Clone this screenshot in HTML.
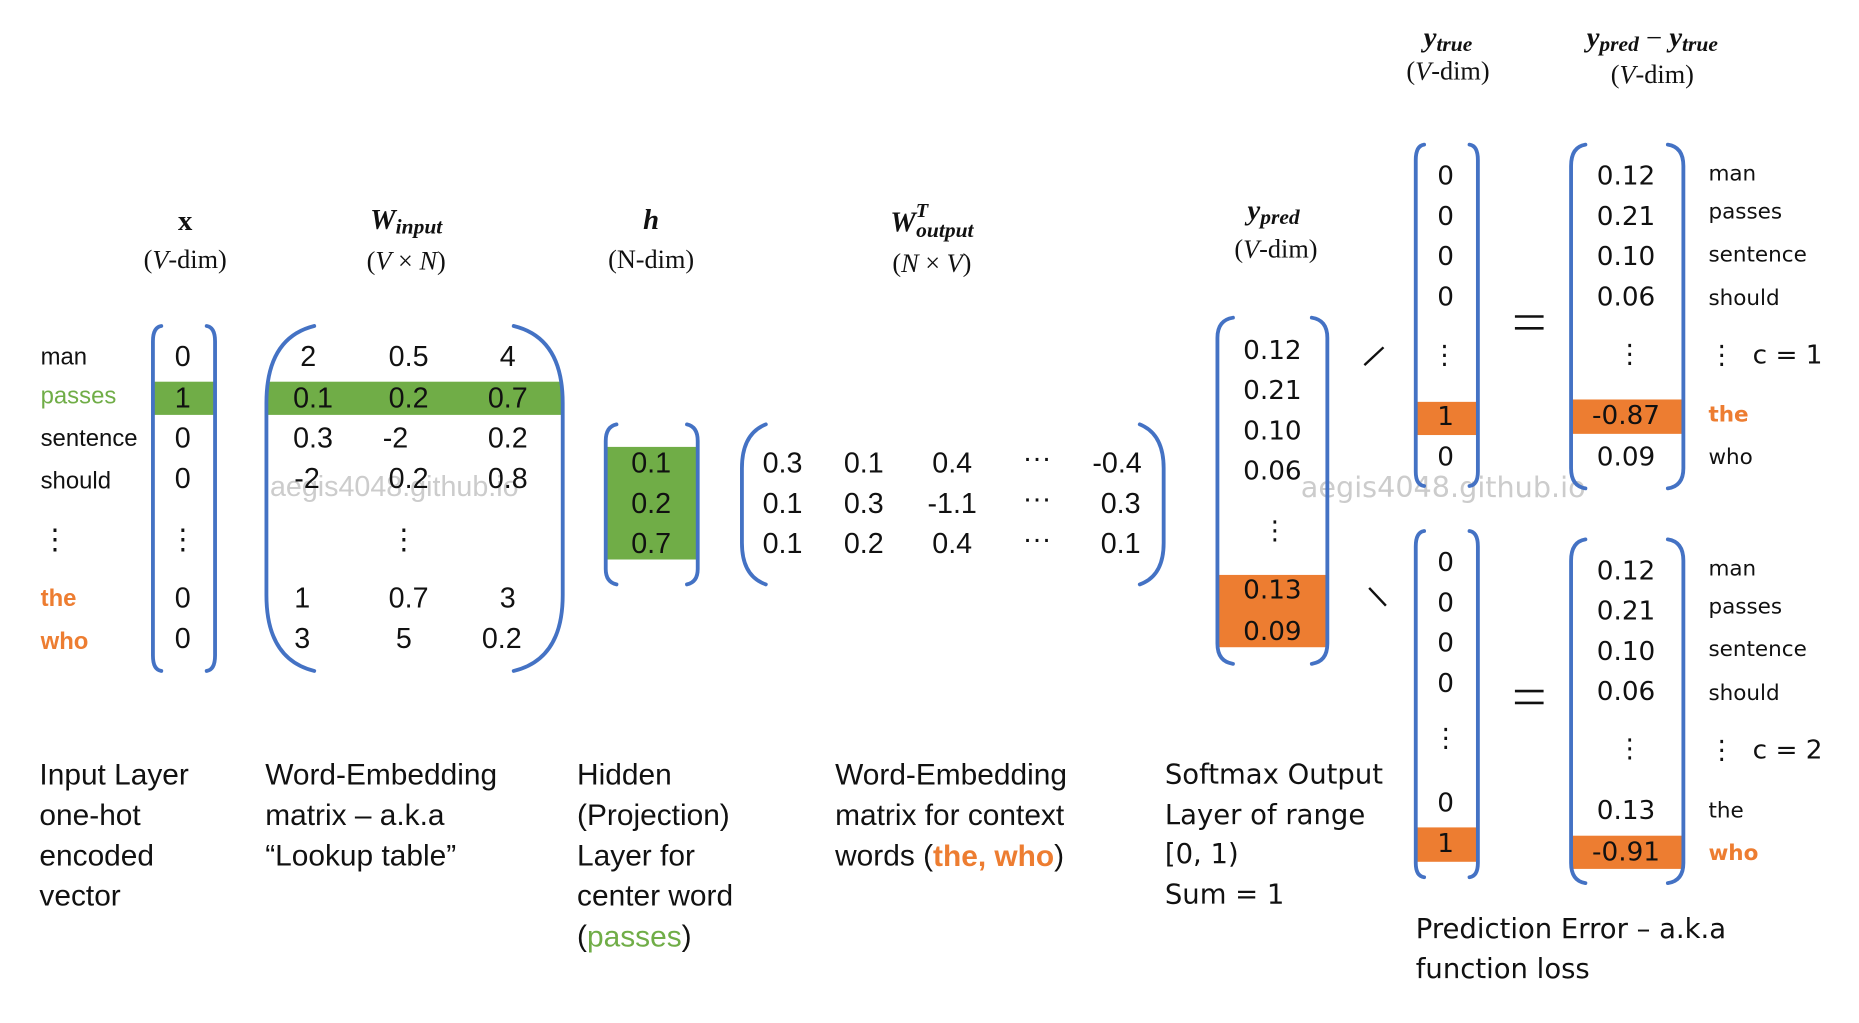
<!DOCTYPE html>
<html><head><meta charset="utf-8"><style>
html,body{margin:0;padding:0;background:#fff;width:1859px;height:1023px;overflow:hidden}
svg{display:block}
.c{font-family:"Liberation Sans",sans-serif;fill:#111}
.v{font-family:"DejaVu Sans","Liberation Sans",sans-serif;fill:#111}
.m{font-family:"Liberation Serif",serif;font-style:italic;font-weight:bold;fill:#111}
.s{font-family:"Liberation Serif",serif;fill:#111}
.b{fill:none;stroke:#4472C4;stroke-width:3.2;stroke-linecap:round}
</style></head><body>
<svg width="1859" height="1023" viewBox="0 0 1556 863" preserveAspectRatio="none">
<g text-anchor="middle" dominant-baseline="central">
<!-- headers -->
<text class="s" x="155" y="187" font-size="24" font-weight="bold">x</text>
<text class="s" x="155" y="219" font-size="22">(<tspan font-style="italic">V</tspan>-dim)</text>
<text class="m" x="340" y="186" font-size="24">W<tspan font-size="18" dy="5">input</tspan></text>
<text class="s" x="340" y="220" font-size="22">(<tspan font-style="italic">V</tspan> × <tspan font-style="italic">N</tspan>)</text>
<text class="m" x="545" y="186" font-size="24">h</text>
<text class="s" x="545" y="219" font-size="22">(N-dim)</text>
<text class="m" x="780" y="188" font-size="24">W<tspan font-size="17" dy="-10">T</tspan><tspan font-size="18" dx="-10" dy="16">output</tspan></text>
<text class="s" x="780" y="222" font-size="22">(<tspan font-style="italic">N</tspan> × <tspan font-style="italic">V</tspan>)</text>
<text class="m" x="1066" y="178" font-size="24">y<tspan font-size="18" dy="5">pred</tspan></text>
<text class="s" x="1068" y="210" font-size="22">(<tspan font-style="italic">V</tspan>-dim)</text>
<text class="m" x="1212" y="32" font-size="24">y<tspan font-size="18" dy="5">true</tspan></text>
<text class="s" x="1212" y="60" font-size="22">(<tspan font-style="italic">V</tspan>-dim)</text>
<text class="m" x="1383" y="32" font-size="24">y<tspan font-size="18" dy="5">pred</tspan><tspan dy="-5" font-style="normal" font-weight="normal"> − </tspan>y<tspan font-size="18" dy="5">true</tspan></text>
<text class="s" x="1383" y="63" font-size="22">(<tspan font-style="italic">V</tspan>-dim)</text>

<!-- watermarks -->
<text x="330" y="411" font-size="24" fill="#ccc" font-family="Liberation Sans,sans-serif">aegis4048.github.io</text>
<text x="1208" y="411" font-size="24" fill="#ccc" font-family="DejaVu Sans,sans-serif">aegis4048.github.io</text>
</g>

<!-- highlights -->
<rect x="129" y="322" width="50" height="28" fill="#70AD47"/>
<rect x="224" y="322" width="246" height="28" fill="#70AD47"/>
<rect x="508" y="377" width="75" height="95" fill="#70AD47"/>
<rect x="1020" y="485" width="90" height="61" fill="#ED7D31"/>
<rect x="1186" y="339" width="50" height="28" fill="#ED7D31"/>
<rect x="1316" y="337" width="92" height="29" fill="#ED7D31"/>
<rect x="1186" y="698" width="50" height="29" fill="#ED7D31"/>
<rect x="1316" y="705" width="92" height="28" fill="#ED7D31"/>

<!-- brackets -->
<path class="b" d="M135 275 Q128 276 128 288 L128 553 Q128 565 135 566"/>
<path class="b" d="M173 275 Q180 276 180 288 L180 553 Q180 565 173 566"/>
<path class="b" d="M263 275 Q223 285 223 340 L223 502 Q223 556 263 566"/>
<path class="b" d="M430 275 Q471 285 471 340 L471 502 Q471 556 430 566"/>
<path class="b" d="M516 358 Q507 360 507 372 L507 480 Q507 491 516 493"/>
<path class="b" d="M575 358 Q584 360 584 372 L584 480 Q584 491 575 493"/>
<path class="b" d="M641 358 Q621 366 621 395 L621 458 Q621 486 641 493"/>
<path class="b" d="M954 358 Q974 366 974 395 L974 458 Q974 486 954 493"/>
<path class="b" d="M1032 268 Q1019 270 1019 285 L1019 543 Q1019 558 1032 560"/>
<path class="b" d="M1098 268 Q1111 270 1111 285 L1111 543 Q1111 558 1098 560"/>
<path class="b" d="M1192 122 Q1185 123 1185 135 L1185 398 Q1185 409 1192 410"/>
<path class="b" d="M1230 122 Q1237 123 1237 135 L1237 398 Q1237 409 1230 410"/>
<path class="b" d="M1327 122 Q1315 124 1315 140 L1315 395 Q1315 410 1327 412"/>
<path class="b" d="M1396 122 Q1409 124 1409 140 L1409 395 Q1409 410 1396 412"/>
<path class="b" d="M1192 448 Q1185 449 1185 461 L1185 728 Q1185 739 1192 740"/>
<path class="b" d="M1230 448 Q1237 449 1237 461 L1237 728 Q1237 739 1230 740"/>
<path class="b" d="M1327 455 Q1315 457 1315 473 L1315 728 Q1315 743 1327 745"/>
<path class="b" d="M1396 455 Q1409 457 1409 473 L1409 728 Q1409 743 1396 745"/>

<!-- slashes / equals -->
<line x1="1142" y1="308" x2="1158" y2="293" stroke="#111" stroke-width="2"/>
<line x1="1146" y1="496" x2="1160" y2="511" stroke="#111" stroke-width="2"/>
<g stroke="#111" stroke-width="2.2"><line x1="1268" y1="267" x2="1292" y2="267"/><line x1="1268" y1="277" x2="1292" y2="277"/>
<line x1="1268" y1="583" x2="1292" y2="583"/><line x1="1268" y1="593" x2="1292" y2="593"/></g>

<g text-anchor="middle" dominant-baseline="central" class="c" font-size="24">
<text class="c" x="153" y="301">0</text><text class="c" x="153" y="336">1</text><text class="c" x="153" y="370">0</text><text class="c" x="153" y="404">0</text><text class="c" x="153" y="455">⋮</text><text class="c" x="153" y="505">0</text><text class="c" x="153" y="539">0</text>
<text class="c" x="258" y="301">2</text><text class="c" x="342" y="301">0.5</text><text class="c" x="425" y="301">4</text>
<text class="c" x="262" y="336">0.1</text><text class="c" x="342" y="336">0.2</text><text class="c" x="425" y="336">0.7</text>
<text class="c" x="262" y="370">0.3</text><text class="c" x="331" y="370">-2</text><text class="c" x="425" y="370">0.2</text>
<text class="c" x="257" y="404">-2</text><text class="c" x="342" y="404">0.2</text><text class="c" x="425" y="404">0.8</text>
<text class="c" x="338" y="455">⋮</text>
<text class="c" x="253" y="505">1</text><text class="c" x="342" y="505">0.7</text><text class="c" x="425" y="505">3</text>
<text class="c" x="253" y="539">3</text><text class="c" x="338" y="539">5</text><text class="c" x="420" y="539">0.2</text>
<text class="c" x="545" y="391">0.1</text><text class="c" x="545" y="425">0.2</text><text class="c" x="545" y="459">0.7</text>
<text class="c" x="655" y="391">0.3</text><text class="c" x="723" y="391">0.1</text><text class="c" x="797" y="391">0.4</text><text class="c" x="868" y="387">···</text><text class="c" x="935" y="391">-0.4</text>
<text class="c" x="655" y="425">0.1</text><text class="c" x="723" y="425">0.3</text><text class="c" x="797" y="425">-1.1</text><text class="c" x="868" y="421">···</text><text class="c" x="938" y="425">0.3</text>
<text class="c" x="655" y="459">0.1</text><text class="c" x="723" y="459">0.2</text><text class="c" x="797" y="459">0.4</text><text class="c" x="868" y="455">···</text><text class="c" x="938" y="459">0.1</text>
</g>
<g class="c" font-size="20" dominant-baseline="central">
<text class="c" x="34" y="301">man</text><text x="34" y="334" fill="#70AD47" font-family="Liberation Sans,sans-serif">passes</text>
<text class="c" x="34" y="370">sentence</text><text class="c" x="34" y="406">should</text><text class="c" x="34" y="455" font-size="24">⋮</text>
<text x="34" y="505" fill="#ED7D31" font-family="Liberation Sans,sans-serif" font-weight="bold">the</text><text x="34" y="541" fill="#ED7D31" font-family="Liberation Sans,sans-serif" font-weight="bold">who</text>
</g>

<g text-anchor="middle" dominant-baseline="central" font-size="22">
<text class="v" x="1065" y="296">0.12</text><text class="v" x="1065" y="330">0.21</text><text class="v" x="1065" y="364">0.10</text><text class="v" x="1065" y="398">0.06</text><text class="v" x="1067" y="448">⋮</text><text class="v" x="1065" y="498">0.13</text><text class="v" x="1065" y="533">0.09</text>
<text class="v" x="1210" y="149">0</text><text class="v" x="1210" y="183">0</text><text class="v" x="1210" y="217">0</text><text class="v" x="1210" y="251">0</text><text class="v" x="1209" y="300">⋮</text><text class="v" x="1210" y="352">1</text><text class="v" x="1210" y="386">0</text>
<text class="v" x="1361" y="149">0.12</text><text class="v" x="1361" y="183">0.21</text><text class="v" x="1361" y="217">0.10</text><text class="v" x="1361" y="251">0.06</text><text class="v" x="1364" y="299">⋮</text><text class="v" x="1361" y="351">-0.87</text><text class="v" x="1361" y="386">0.09</text>
<text class="v" x="1210" y="475">0</text><text class="v" x="1210" y="509">0</text><text class="v" x="1210" y="543">0</text><text class="v" x="1210" y="577">0</text><text class="v" x="1210" y="623">⋮</text><text class="v" x="1210" y="678">0</text><text class="v" x="1210" y="712">1</text>
<text class="v" x="1361" y="482">0.12</text><text class="v" x="1361" y="516">0.21</text><text class="v" x="1361" y="550">0.10</text><text class="v" x="1361" y="584">0.06</text><text class="v" x="1364" y="632">⋮</text><text class="v" x="1361" y="684">0.13</text><text class="v" x="1361" y="719">-0.91</text>
</g>
<g font-size="18" dominant-baseline="central">
<text class="v" x="1430" y="147">man</text><text class="v" x="1430" y="179">passes</text><text class="v" x="1430" y="215">sentence</text><text class="v" x="1430" y="252">should</text>
<text class="v" x="1430" y="300" font-size="22">⋮ <tspan dx="8">c = 1</tspan></text>
<text x="1430" y="350" fill="#ED7D31" font-family="DejaVu Sans,sans-serif" font-weight="bold">the</text><text class="v" x="1430" y="386">who</text>
<text class="v" x="1430" y="480">man</text><text class="v" x="1430" y="512">passes</text><text class="v" x="1430" y="548">sentence</text><text class="v" x="1430" y="585">should</text>
<text class="v" x="1430" y="633" font-size="22">⋮ <tspan dx="8">c = 2</tspan></text>
<text class="v" x="1430" y="684">the</text><text x="1430" y="720" fill="#ED7D31" font-family="DejaVu Sans,sans-serif" font-weight="bold">who</text>
</g>

<!-- bottom captions -->
<g font-size="25" dominant-baseline="central">
<text class="c" x="33" y="654">Input Layer</text><text class="c" x="33" y="688">one-hot</text><text class="c" x="33" y="722">encoded</text><text class="c" x="33" y="756">vector</text>
<text class="c" x="222" y="654">Word-Embedding</text><text class="c" x="222" y="688">matrix – a.k.a</text><text class="c" x="222" y="722">“Lookup table”</text>
<text class="c" x="483" y="654">Hidden</text><text class="c" x="483" y="688">(Projection)</text><text class="c" x="483" y="722">Layer for</text><text class="c" x="483" y="756">center word</text><text class="c" x="483" y="790">(<tspan fill="#70AD47">passes</tspan>)</text>
<text class="c" x="699" y="654">Word-Embedding</text><text class="c" x="699" y="688">matrix for context</text><text class="c" x="699" y="722">words (<tspan fill="#ED7D31" font-weight="bold">the, who</tspan>)</text>
</g>
<g font-size="23" dominant-baseline="central">
<text class="v" x="975" y="654">Softmax Output</text><text class="v" x="975" y="688">Layer of range</text><text class="v" x="975" y="721">[0, 1)</text><text class="v" x="975" y="755">Sum = 1</text>
<text class="v" x="1185" y="784">Prediction Error – a.k.a</text><text class="v" x="1185" y="818">function loss</text>
</g>
</svg>
</body></html>
